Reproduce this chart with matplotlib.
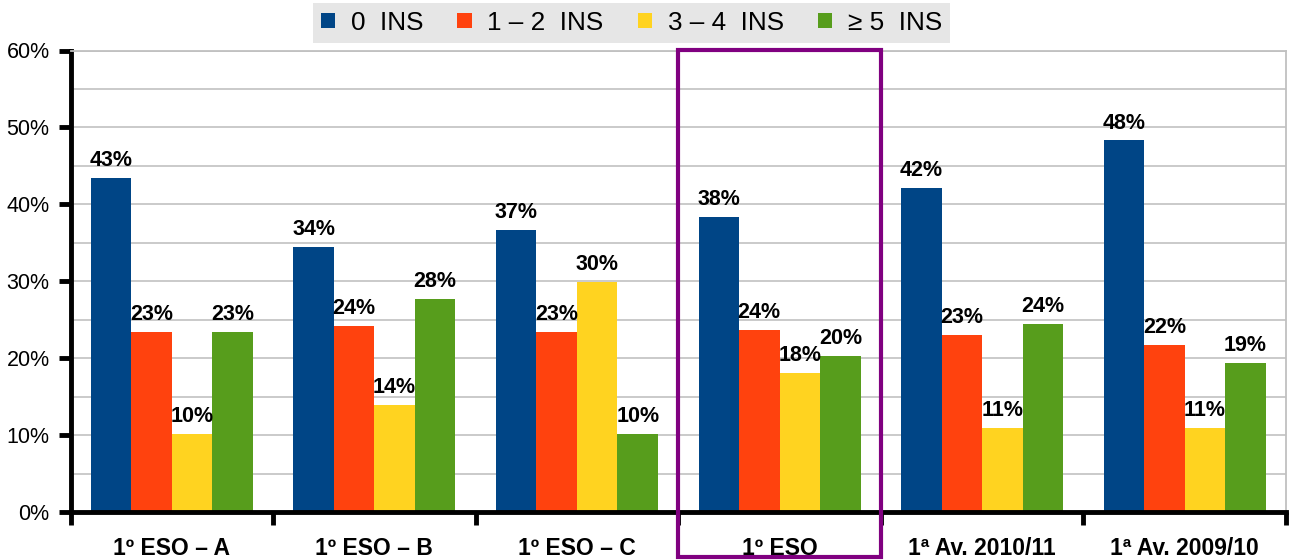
import numpy as np
import matplotlib
matplotlib.use('Agg')
import matplotlib.pyplot as plt
import matplotlib.transforms as mtransforms
from matplotlib.patches import Rectangle

# datos (porcentajes) por grupo
grupos = ['1º ESO – A', '1º ESO – B', '1º ESO – C', '1º ESO', '1ª Av. 2010/11', '1ª Av. 2009/10']
series = ['0  INS', '1 – 2  INS', '3 – 4  INS', '≥ 5  INS']
ins_0 = [43.4, 34.4, 36.7, 38.3, 42.1, 48.3]
ins_1_2 = [23.4, 24.2, 23.4, 23.7, 23.0, 21.7]
ins_3_4 = [10.2, 13.9, 29.9, 18.1, 10.9, 10.9]
ins_5 = [23.4, 27.7, 10.2, 20.3, 24.4, 19.4]
colores = ['#004586', '#ff420e', '#ffd320', '#579d1c']
grupo_destacado = 3

valores = [ins_0, ins_1_2, ins_3_4, ins_5]

fig = plt.figure(figsize=(12.89, 5.6), dpi=100)
W, H = 1289, 560
ax = fig.add_axes([70.5 / W, 1 - 512 / H, (1286 - 70.5) / W, (512 - 50.5) / H])

x = np.arange(len(grupos))
ancho = 0.2
barras = []
for i, (vals, nombre, col) in enumerate(zip(valores, series, colores)):
    b = ax.bar(x + (i - 1.5) * ancho, vals, ancho, color=col, label=nombre, zorder=2)
    barras.append(b)
    ax.bar_label(b, labels=[f'{v:.0f}%' for v in vals], padding=5,
                 fontsize=15.5, fontweight='bold',
                 family=['Liberation Sans Narrow', 'Liberation Sans', 'DejaVu Sans'])

ax.set_xlim(-0.5, len(grupos) - 0.5)
ax.set_ylim(0, 60)

# eje y
ax.set_yticks(np.arange(0, 61, 10))
ax.set_yticklabels([f'{v}%' for v in range(0, 61, 10)])
ax.set_yticks(np.arange(0, 61, 5), minor=True)
ax.tick_params(axis='y', which='major', length=9, width=3.5, pad=6, labelsize=15.5)
ax.tick_params(axis='y', which='minor', length=0)
ax.grid(axis='y', which='both', color='#c6c6c6', linewidth=1.3, zorder=0)
ax.set_axisbelow(True)

# eje x: marcas en los limites de grupo, etiquetas en el centro
ax.set_xticks(np.arange(-0.5, len(grupos), 1.0))
ax.set_xticklabels([])
ax.set_xticks(x, minor=True)
ax.set_xticklabels(grupos, minor=True, fontsize=16.5, fontweight='bold')
ax.tick_params(axis='x', which='major', length=9, width=3.5)
ax.tick_params(axis='x', which='minor', length=0, pad=18)

for lado in ['left', 'bottom']:
    ax.spines[lado].set_linewidth(3.5)
    ax.spines[lado].set_color('black')
for lado in ['top', 'right']:
    ax.spines[lado].set_linewidth(1.3)
    ax.spines[lado].set_color('#c0c0c0')

for t in ax.get_yticklabels() + ax.get_xticklabels(minor=True):
    t.set_family(['Liberation Sans', 'DejaVu Sans'])

# recuadro morado sobre el grupo destacado
trans = mtransforms.blended_transform_factory(ax.transData, ax.transAxes)
rect = Rectangle((grupo_destacado - 0.5, -0.098), 1.0, 1.098, transform=trans,
                 fill=False, edgecolor='#800080', linewidth=3, clip_on=False, zorder=5)
ax.add_patch(rect)

# leyenda
leg = ax.legend(handles=barras, ncol=4, loc='upper left',
                bbox_to_anchor=(313 / W, 1 - 3 / H), bbox_transform=fig.transFigure,
                borderaxespad=0, frameon=True, fancybox=False,
                prop={'family': ['Liberation Sans', 'DejaVu Sans'], 'size': 18.8},
                handlelength=0.55, handleheight=0.55, handletextpad=0.6,
                columnspacing=1.3, borderpad=0.3)
leg.get_frame().set_facecolor('#e6e6e6')
leg.get_frame().set_edgecolor('none')
leg.get_frame().set_alpha(1)
leg.set_zorder(1)

fig.savefig('out.png', dpi=100)
